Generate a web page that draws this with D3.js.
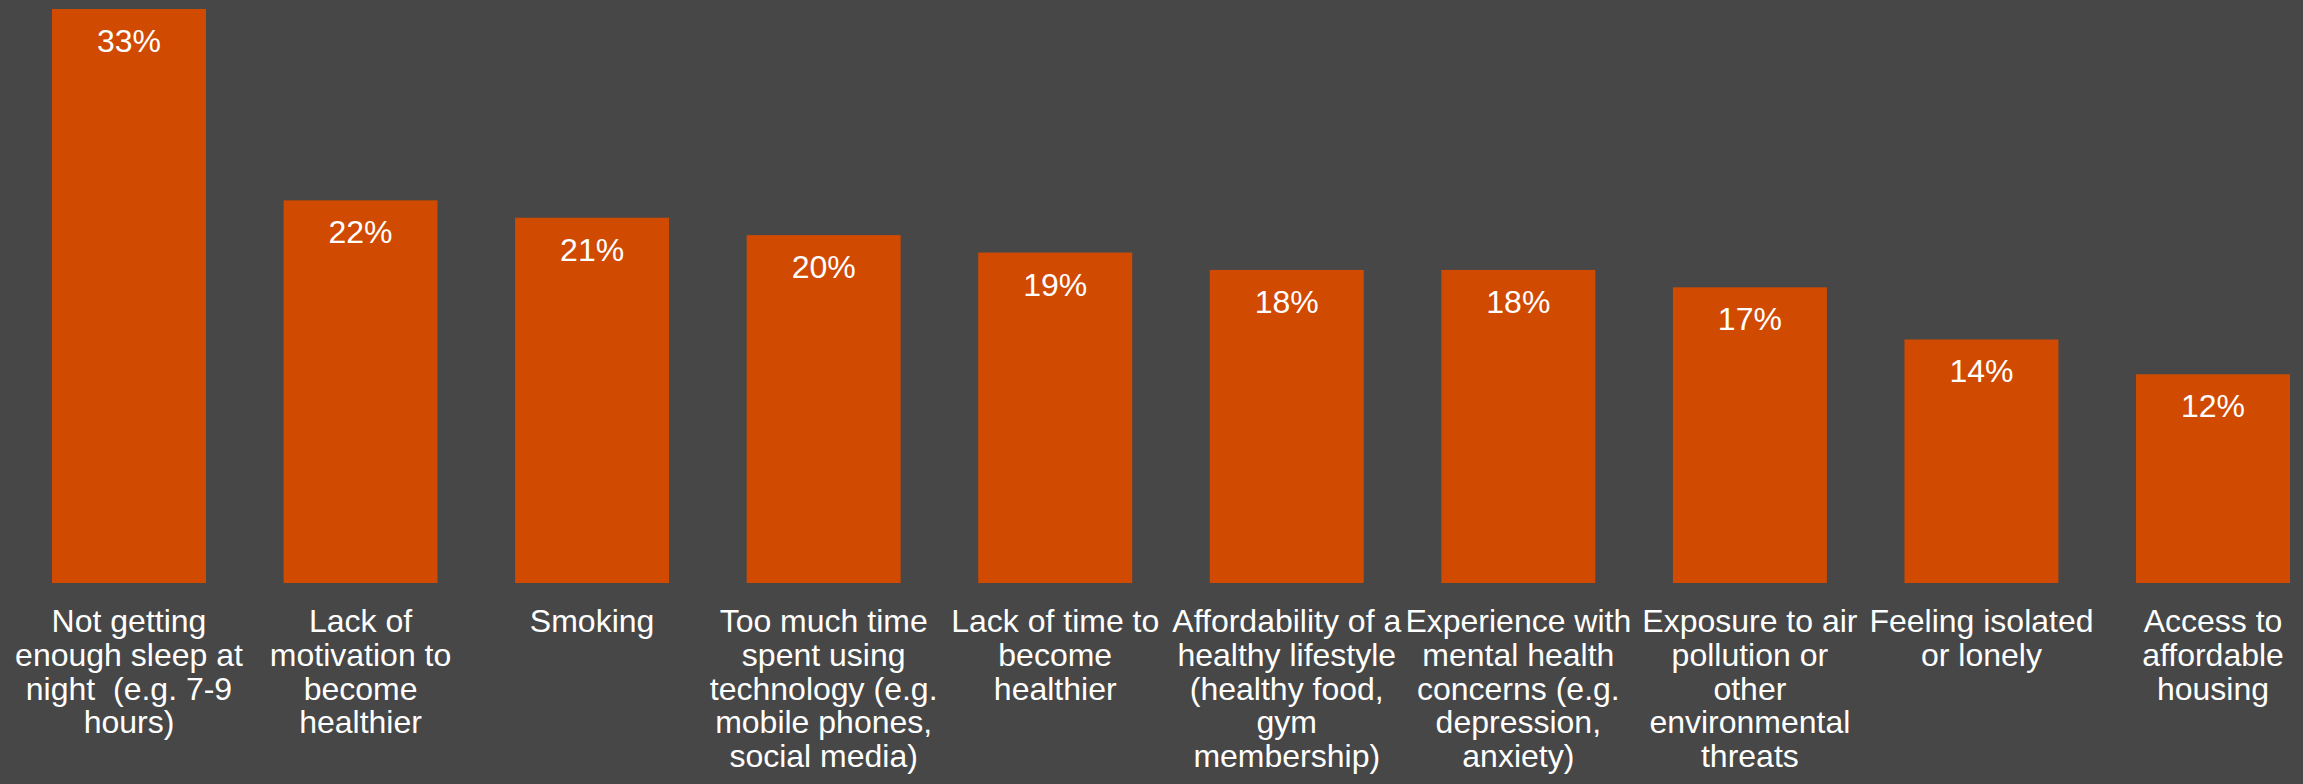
<!DOCTYPE html>
<html>
<head>
<meta charset="utf-8">
<script src="https://cdn.jsdelivr.net/npm/d3@7"></script>
<style>
  html, body { margin: 0; padding: 0; background: #474747; }
  svg { display: block; }
  text { font-family: "Liberation Sans", Arial, sans-serif; fill: #ffffff; }
</style>
</head>
<body>
<svg id="chart"></svg>
<script>
// Categories (each entry is the list of wrapped label lines)
const categories = [
  ["Not getting", "enough sleep at", "night  (e.g. 7-9", "hours)"],
  ["Lack of", "motivation to", "become", "healthier"],
  ["Smoking"],
  ["Too much time", "spent using", "technology (e.g.", "mobile phones,", "social media)"],
  ["Lack of time to", "become", "healthier"],
  ["Affordability of a", "healthy lifestyle", "(healthy food,", "gym", "membership)"],
  ["Experience with", "mental health", "concerns (e.g.", "depression,", "anxiety)"],
  ["Exposure to air", "pollution or", "other", "environmental", "threats"],
  ["Feeling isolated", "or lonely"],
  ["Access to", "affordable", "housing"]
];

// Share of respondents (%)
const values = [33, 22, 21, 20, 19, 18, 18, 17, 14, 12];

const W = 2303, H = 784;
const baseY = 583;
const svg = d3.select("#chart").attr("width", W).attr("height", H);

svg.append("rect").attr("width", W).attr("height", H).attr("fill", "#474747");

const x = d3.scaleBand()
  .domain(d3.range(values.length))
  .range([52, 2290])
  .paddingInner(0.335)
  .paddingOuter(0);

const y = d3.scaleLinear()
  .domain([0, 33])
  .range([baseY, 9]);

const g = svg.append("g");

g.selectAll("rect.bar")
  .data(values)
  .join("rect")
  .attr("class", "bar")
  .attr("x", (d, i) => x(i))
  .attr("y", d => y(d))
  .attr("width", x.bandwidth())
  .attr("height", d => y(0) - y(d))
  .attr("fill", "#D04A02");

g.selectAll("text.val")
  .data(values)
  .join("text")
  .attr("class", "val")
  .attr("x", (d, i) => x(i) + x.bandwidth() / 2)
  .attr("y", d => y(d) + 43)
  .attr("text-anchor", "middle")
  .attr("font-size", 32)
  .text(d => d + "%");

const cat = g.selectAll("text.cat")
  .data(categories)
  .join("text")
  .attr("class", "cat")
  .attr("text-anchor", "middle")
  .attr("font-size", 32)
  .attr("y", baseY + 49)
  .style("white-space", "pre");

cat.selectAll("tspan")
  .data((lines, i) => lines.map(l => ({ l, i })))
  .join("tspan")
  .attr("x", d => x(d.i) + x.bandwidth() / 2)
  .attr("dy", (d, j) => j === 0 ? 0 : 33.8)
  .text(d => d.l);
</script>
</body>
</html>
